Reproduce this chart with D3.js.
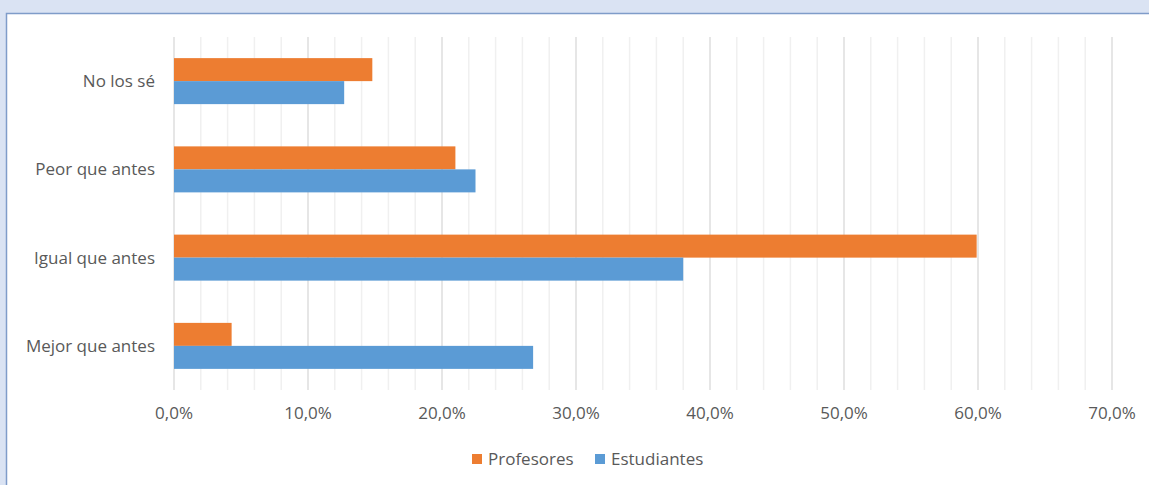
<!DOCTYPE html>
<html>
<head>
<meta charset="utf-8">
<script src="https://cdn.jsdelivr.net/npm/d3@7"></script>
<style>
  html, body { margin: 0; background: #dae3f3; overflow: hidden; }
  svg { display: block; }
  text { font-family: "Open Sans", "Noto Sans", sans-serif; fill: #595959; }
</style>
</head>
<body>
<svg id="chart" width="1149" height="485"></svg>
<script>
var categories = ["No los sé", "Peor que antes", "Igual que antes", "Mejor que antes"];
var series = ["Profesores", "Estudiantes"];
var profesores = [14.8, 21.0, 59.9, 4.3];
var estudiantes = [12.7, 22.5, 38.0, 26.8];
var ticks = [0, 10, 20, 30, 40, 50, 60, 70];
var colors = ["#ed7d31", "#5b9bd5"];

var svg = d3.select("#chart");

// white chart area with blue border
svg.append("rect")
	.attr("x", 6.5).attr("y", 13.5)
	.attr("width", 1160).attr("height", 490)
	.attr("fill", "#fff")
	.attr("stroke", "#7f9cc9")
	.attr("stroke-width", 1.5);

var x = d3.scaleLinear().domain([0, 70]).range([174, 1112]);
var y = d3.scaleBand().domain(categories).range([37, 390]);
var inner = d3.scaleBand().domain(series).range([0, 46]);
var offset = (y.bandwidth() - 46) / 2;

// minor gridlines every 2%
var minor = d3.range(0, 71, 2).filter(function(d){ return d % 10 != 0; });
svg.selectAll(".minor").data(minor).enter()
	.append("line")
	.attr("x1", x).attr("x2", x)
	.attr("y1", 37).attr("y2", 390)
	.attr("stroke", "#f0f0f0").attr("stroke-width", 1.5);

svg.selectAll(".major").data(ticks).enter()
	.append("line")
	.attr("x1", x).attr("x2", x)
	.attr("y1", 37).attr("y2", 390)
	.attr("stroke", "#dedede").attr("stroke-width", 1.5);

var rows = categories.map(function(c, i){
	return [{cat: c, s: series[0], v: profesores[i]}, {cat: c, s: series[1], v: estudiantes[i]}];
});

svg.selectAll(".row").data(rows).enter()
	.append("g")
	.selectAll("rect").data(function(d){ return d; }).enter()
	.append("rect")
	.attr("x", x(0))
	.attr("y", function(d){ return y(d.cat) + offset + inner(d.s); })
	.attr("height", inner.bandwidth())
	.attr("width", function(d){ return x(d.v) - x(0); })
	.attr("fill", function(d){ return colors[series.indexOf(d.s)]; });

// category labels
svg.selectAll(".cat").data(categories).enter()
	.append("text")
	.attr("x", 155)
	.attr("y", function(d){ return y(d) + y.bandwidth() / 2; })
	.attr("dy", "0.35em")
	.attr("text-anchor", "end")
	.style("font-size", "17px")
	.text(function(d){ return d; });

// x tick labels
svg.selectAll(".tick").data(ticks).enter()
	.append("text")
	.attr("x", x)
	.attr("y", 413)
	.attr("dy", "0.35em")
	.attr("text-anchor", "middle")
	.style("font-size", "17px")
	.text(function(d){ return d3.format(".1f")(d).replace(".", ",") + "%"; });

// legend
var legendX = [472, 595];
var lg = svg.selectAll(".legend").data(series).enter()
	.append("g")
	.attr("transform", function(d, i){ return "translate(" + legendX[i] + ",459)"; });
lg.append("rect")
	.attr("x", 0).attr("y", -5)
	.attr("width", 10).attr("height", 10)
	.attr("fill", function(d, i){ return colors[i]; });
lg.append("text")
	.attr("x", 16)
	.attr("dy", "0.35em")
	.style("font-size", "17px")
	.text(function(d){ return d; });
</script>
</body>
</html>
